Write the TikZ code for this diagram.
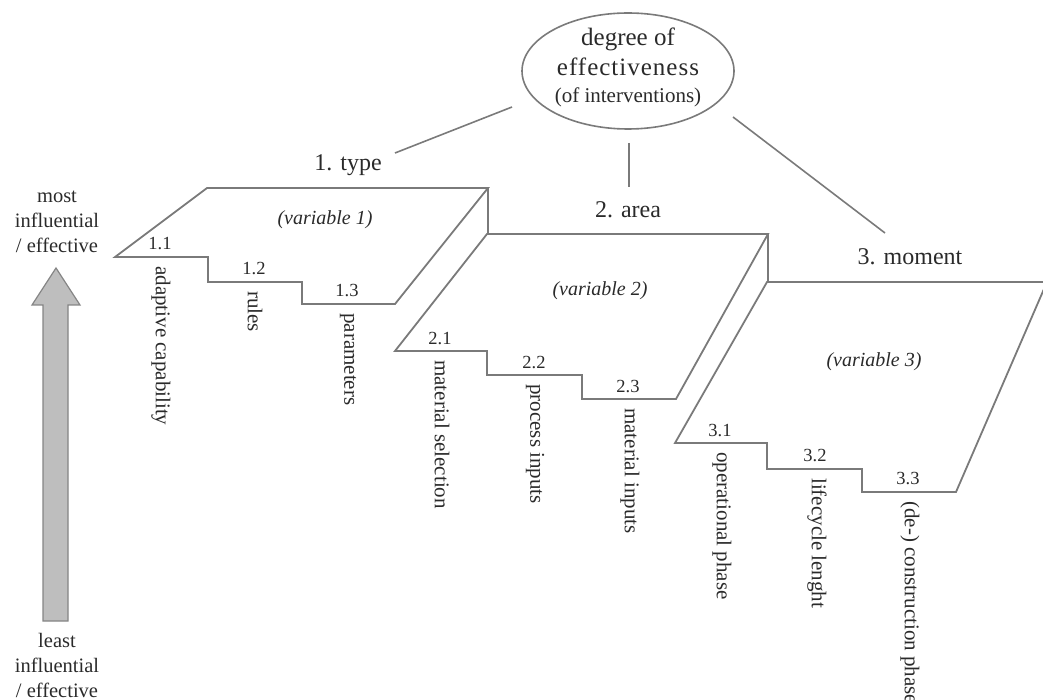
\documentclass[tikz,border=0pt]{standalone}
\usepackage{fontspec}
\setmainfont{Liberation Serif}
\usetikzlibrary{shapes.geometric}
\definecolor{edge}{HTML}{7A7A7A}
\definecolor{ink}{HTML}{2A2A2A}
\definecolor{shaft}{HTML}{BEBEBE}
\definecolor{shaftline}{HTML}{858585}
\begin{document}
\begin{tikzpicture}[x=1pt,y=-1pt,
  frame/.style={draw=edge, line width=1.8pt, line join=miter},
  link/.style={draw=edge, line width=1.6pt},
  head/.style={font=\fontsize{24}{28}\selectfont, text=ink, inner sep=0pt},
  varlabel/.style={font=\fontsize{20}{24}\selectfont\itshape, text=ink, inner sep=0pt},
  num/.style={font=\fontsize{18.5}{20}\selectfont, text=ink, anchor=base, inner sep=0pt},
  item/.style={font=\fontsize{21}{24}\selectfont, text=ink, rotate=-90, anchor=west, inner sep=0pt},
  side/.style={font=\fontsize{20.5}{25}\selectfont, text=ink, align=center, inner sep=0pt}]
\useasboundingbox (0,0) rectangle (1043,700);
\clip (0,0) rectangle (1043,700);

% central concept
\node[ellipse, draw=edge, line width=1.6pt, minimum width=212pt, minimum height=116pt] (goal) at (628,71) {};
\node[align=center, text=ink, inner sep=0pt, font=\fontsize{25}{30}\selectfont] (goaltext) at (628,67)
  {degree of\\ {\addfontfeature{LetterSpace=4}effectiveness}\\[-3pt]
   {\fontsize{21}{24}\selectfont (of interventions)}};

% variable headings
\node[head] (type) at (348,165) {1. type};
\node[head] (area) at (628,210) {2. area};
\node[head] (moment) at (910,257) {3. moment};

% connectors from the concept to the variables
\coordinate (l1a) at (512,107); \coordinate (l1b) at (395,153);
\coordinate (l2a) at (629,143); \coordinate (l2b) at (629,187);
\coordinate (l3a) at (733,117); \coordinate (l3b) at (885,233);
\draw[link] (l1a) -- (l1b);
\draw[link] (l2a) -- (l2b);
\draw[link] (l3a) -- (l3b);

% stepped planes
\draw[frame] (115,257) -- (207,188) -- (488,188) -- (395,304) -- (302,304)
  -- (302,282) -- (208,282) -- (208,257) -- cycle;
\draw[frame] (488,188) -- (488,235);
\draw[frame] (395,351) -- (487,234) -- (768,234) -- (676,399) -- (582,399)
  -- (582,375) -- (487,375) -- (487,351) -- cycle;
\draw[frame] (768,234) -- (768,282);
\draw[frame] (675,443) -- (767,282) -- (1047,282) -- (956,492) -- (862,492)
  -- (862,469) -- (767,469) -- (767,443) -- cycle;

\node[varlabel] (v1) at (325,220) {(variable 1)};
\node[varlabel] (v2) at (600,291) {(variable 2)};
\node[varlabel] (v3) at (874,362) {(variable 3)};

% step numbers
\foreach \x/\y/\t in {160/250/1.1, 254/275/1.2, 347/297/1.3,
                      440/344/2.1, 534/368/2.2, 628/392/2.3,
                      720/436/3.1, 815/461/3.2, 908/484/3.3}
  \node[num] at (\x,\y) {\t};

% step items
\node[item] (i11) at (161,266) {adaptive capability};
\node[item] (i12) at (255,291) {rules};
\node[item] (i13) at (348,313) {parameters};
\node[item] (i21) at (442,360) {material selection};
\node[item] (i22) at (535,384) {process inputs};
\node[item] (i23) at (630,408) {material inputs};
\node[item] (i31) at (722,452) {operational phase};
\node[item] (i32) at (817,478) {lifecycle lenght};
\node[item] (i33) at (910,501) {(de-) construction phase};

% influence scale
\draw[fill=shaft, draw=shaftline, line width=1.2pt, line join=miter]
  (43,621) -- (43,305) -- (32,305) -- (56,268) -- (80,305) -- (68,305) -- (68,621) -- cycle;
\node[side] (most) at (57,222) {most\\influential\\/ effective};
\node[side] (least) at (57,665) {least\\influential\\/ effective};
\end{tikzpicture}
\end{document}
